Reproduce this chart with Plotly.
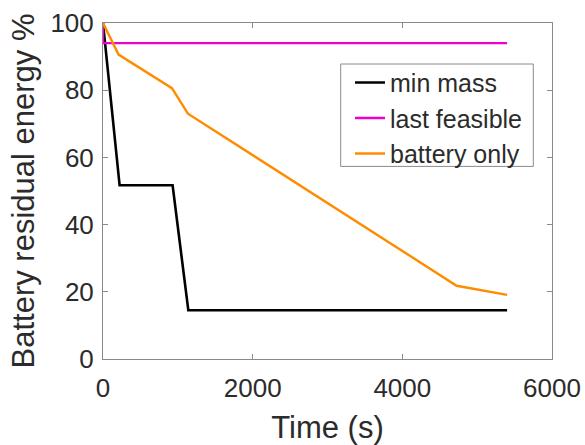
import plotly.graph_objects as go

# Battery state of charge over the mission, per design case
t_min_mass = [0, 222, 930, 1140, 5400]
e_min_mass = [100, 51.7, 51.7, 14.5, 14.5]

t_last_feasible = [0, 0, 5400]
e_last_feasible = [100, 94, 94]

t_battery_only = [0, 208, 921, 1135, 4726, 5400]
e_battery_only = [100, 90.6, 80.6, 73.0, 21.8, 19.1]

x_ticks = [0, 2000, 4000, 6000]
y_ticks = [0, 20, 40, 60, 80, 100]

FONT = "Liberation Sans, Arial, Helvetica, sans-serif"
TEXT = "#2b2b2b"
AXIS = "#8a8a8a"

# plot area in pixels
L, R, T, B = 103, 552, 23.3, 359.3
W, H = R - L, B - T

fig = go.Figure()
fig.add_trace(go.Scatter(x=t_min_mass, y=e_min_mass, mode="lines", name="min mass",
                         line=dict(color="#000000", width=2.6)))
fig.add_trace(go.Scatter(x=t_last_feasible, y=e_last_feasible, mode="lines", name="last feasible",
                         line=dict(color="#ee00cc", width=2.4)))
fig.add_trace(go.Scatter(x=t_battery_only, y=e_battery_only, mode="lines", name="battery only",
                         line=dict(color="#ff8c00", width=2.4)))

axis_common = dict(
    showgrid=False, zeroline=False, showline=True, linecolor=AXIS, linewidth=1,
    mirror="ticks", ticks="inside", ticklen=5, tickcolor=AXIS, tickwidth=1,
    tickfont=dict(family=FONT, size=26, color=TEXT), automargin=False,
)

fig.update_layout(
    width=585, height=445,
    margin=dict(l=L, r=585 - R, t=T, b=445 - B),
    paper_bgcolor="white", plot_bgcolor="white",
    font=dict(family=FONT, color=TEXT),
    xaxis=dict(range=[0, 6000], tickvals=x_ticks, ticktext=[str(v) for v in x_ticks],
               ticklabelstandoff=6,
               title=dict(text="Time (s)", font=dict(family=FONT, size=31, color=TEXT), standoff=16),
               **axis_common),
    yaxis=dict(range=[0, 100], tickvals=y_ticks, ticktext=[str(v) for v in y_ticks],
               ticklabelstandoff=3,
               title=dict(text="Battery residual energy %", font=dict(family=FONT, size=31, color=TEXT), standoff=6),
               **axis_common),
    legend=dict(x=(350 - L) / W, y=(B - 60) / H, xanchor="left", yanchor="top",
                bgcolor="rgba(0,0,0,0)", borderwidth=0,
                font=dict(family=FONT, size=25, color=TEXT), tracegroupgap=0),
    showlegend=True,
    shapes=[dict(type="rect", xref="paper", yref="paper",
                 x0=(340.7 - L) / W, x1=(533.3 - L) / W,
                 y0=(B - 166.7) / H, y1=(B - 64.3) / H,
                 line=dict(color=AXIS, width=1), fillcolor="white", layer="below")],
)

fig.write_html("out.html")
